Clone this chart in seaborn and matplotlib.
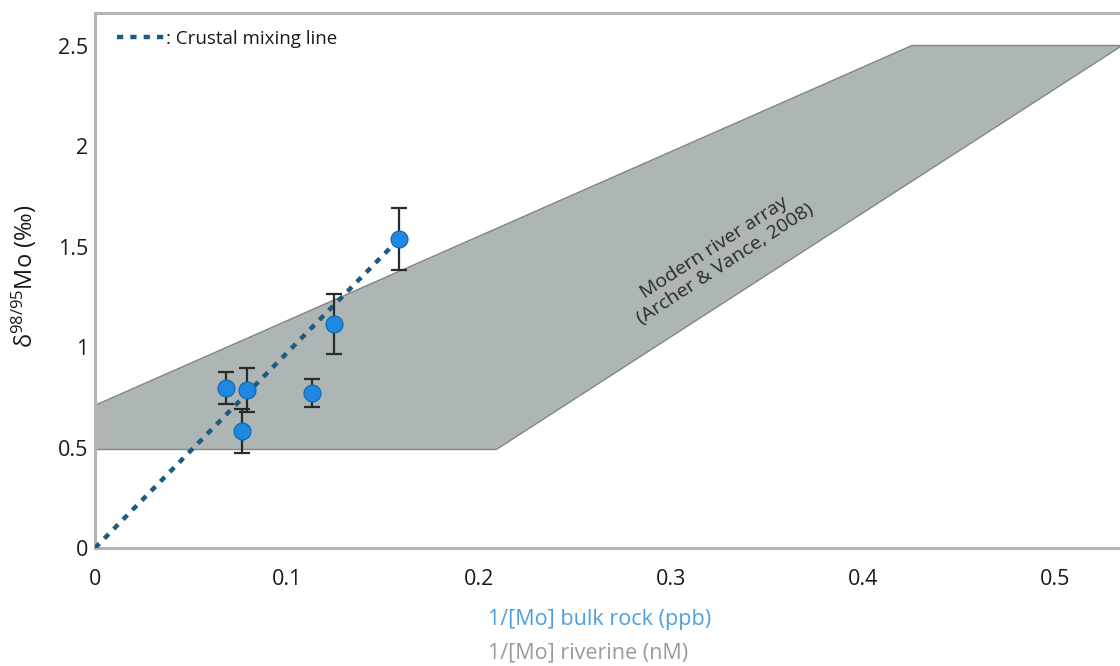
import matplotlib
matplotlib.use("Agg")
import matplotlib.pyplot as plt
import seaborn as sns
import pandas as pd
from matplotlib.patches import Polygon

# ---- data ----
sample_x = [0.0682, 0.0766, 0.0792, 0.113, 0.1245, 0.1583]
sample_y = [0.796, 0.582, 0.786, 0.771, 1.114, 1.537]
sample_err = [0.082, 0.11, 0.11, 0.07, 0.15, 0.155]

mixing_x = [0.0, 0.1583]
mixing_y = [0.0, 1.537]

# Modern river array polygon (Archer & Vance, 2008)
band_x = [0.0, 0.0, 0.4255, 0.535, 0.209]
band_y = [0.49, 0.71, 2.5, 2.5, 0.49]

x_ticks = [0, 0.1, 0.2, 0.3, 0.4, 0.5]
x_ticklabels = ["0", "0.1", "0.2", "0.3", "0.4", "0.5"]
y_ticks = [0, 0.5, 1, 1.5, 2, 2.5]
y_ticklabels = ["0", "0.5", "1", "1.5", "2", "2.5"]

sns.set_theme(style="white")
plt.rcParams["font.family"] = ["Open Sans", "DejaVu Sans"]
plt.rcParams["mathtext.fontset"] = "custom"
plt.rcParams["mathtext.rm"] = "Open Sans"
plt.rcParams["mathtext.it"] = "Open Sans:italic"

fig = plt.figure(figsize=(11.2, 6.66), dpi=100)
ax = fig.add_axes([95 / 1120, (666 - 548) / 666, 1 - 95 / 1120, (548 - 13) / 666])

# band
poly = Polygon(list(zip(band_x, band_y)), closed=True, facecolor="#adb5b5",
               edgecolor="#7f8787", linewidth=1.0, zorder=1)
ax.add_patch(poly)

# mixing line
mix_df = pd.DataFrame({"x": mixing_x, "y": mixing_y})
sns.lineplot(data=mix_df, x="x", y="y", ax=ax, color="#1d5b80", linewidth=3.2,
             linestyle=(0, (1.4, 1.6)), label=": Crustal mixing line", zorder=3)

# error bars
ax.errorbar(sample_x, sample_y, yerr=sample_err, fmt="none", ecolor="#2a2a2a",
            elinewidth=1.6, capsize=6, capthick=1.6, zorder=4)

# points
pts = pd.DataFrame({"x": sample_x, "y": sample_y})
sns.scatterplot(data=pts, x="x", y="y", ax=ax, s=150, color="#1e88e0",
                edgecolor="#1565a8", linewidth=0.8, zorder=5, legend=False)

ax.set_xlim(0, (1120 - 95) / 1920)
ax.set_ylim(0, (548 - 13) / 201)
ax.set_xticks(x_ticks)
ax.set_xticklabels(x_ticklabels)
ax.set_yticks(y_ticks)
ax.set_yticklabels(y_ticklabels)
ax.tick_params(axis="x", length=0, pad=15, labelsize=15.5, labelcolor="#1a1a1a")
ax.tick_params(axis="y", length=0, pad=5, labelsize=15.5, labelcolor="#1a1a1a")

for side in ["left", "bottom", "top"]:
    ax.spines[side].set_color("#b4b4b4")
    ax.spines[side].set_linewidth(2.2)
ax.spines["right"].set_visible(False)

ax.set_xlabel("")
ax.set_ylabel("")
fig.text(24 / 1120, 1 - 276 / 666, "δ$^{98/95}$Mo (‰)", rotation=90,
         fontsize=17, color="#1a1a1a", ha="center", va="center")

fig.text(488 / 1120, 1 - 620 / 666, "1/[Mo] bulk rock (ppb)", color="#4b9fe1",
         fontsize=15.5, ha="left", va="center")
fig.text(488 / 1120, 1 - 653 / 666, "1/[Mo] riverine (nM)", color="#9a9a9a",
         fontsize=15.5, ha="left", va="center")

ax.text(0.3255, 1.453, "Modern river array\n(Archer & Vance, 2008)", rotation=33,
        ha="center", va="center", fontsize=14, color="#2a2a2a",
        linespacing=1.15, rotation_mode="anchor", zorder=2)

leg = ax.legend(loc="upper left", frameon=False, handlelength=2.6,
                handletextpad=0.0, fontsize=13.5, borderaxespad=0.5,
                bbox_to_anchor=(0.005, 1.0))
for t in leg.get_texts():
    t.set_color("#1a1a1a")

fig.savefig("out.png", dpi=100)
